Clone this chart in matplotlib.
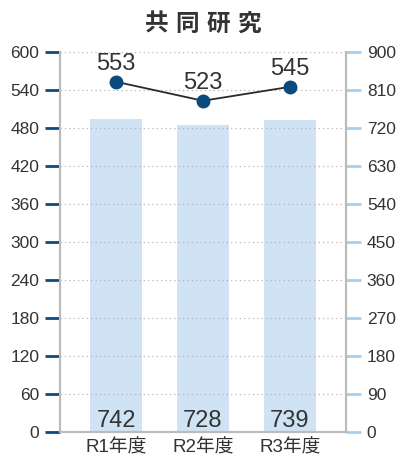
import matplotlib
matplotlib.use("Agg")
import matplotlib.pyplot as plt
import numpy as np

plt.rcParams['font.family'] = ['Liberation Sans', 'Noto Sans CJK JP', 'DejaVu Sans']

title = "共同研究"
categories = ["R1年度", "R2年度", "R3年度"]
bar_values = [742, 728, 739]      # right axis
line_values = [553, 523, 545]     # left axis
left_ticks = list(range(0, 601, 60))
right_ticks = list(range(0, 901, 90))

fig = plt.figure(figsize=(3.99, 4.61), dpi=100)
ax = fig.add_axes([60/399, 29/461, 286/399, 380/461])
ax2 = ax.twinx()

x = np.arange(len(categories))

# bars on right axis
ax2.bar(x, bar_values, width=0.6, color="#cfe3f4", zorder=1)
ax2.set_ylim(0, 900)
ax2.set_yticks(right_ticks)
for xi, v in zip(x, bar_values):
    ax2.text(xi, 12, str(v), ha="center", va="baseline", fontsize=17,
             color="#333333")

# put left axis on top for line
ax.set_zorder(ax2.get_zorder() + 1)
ax.patch.set_visible(False)

ax.set_ylim(0, 600)
ax.set_yticks(left_ticks)
ax.set_xlim(-0.644, 2.644)
ax.grid(axis="y", linestyle=(0, (1, 2.5)), color="#b5b5b5", linewidth=0.9)
ax.set_axisbelow(True)
ax.plot(x, line_values, color="#2a2a2a", linewidth=1.3, zorder=3)
ax.plot(x, line_values, "o", color="#0b4a7e", markersize=9, zorder=4)
for xi, v in zip(x, line_values):
    ax.text(xi, v + 19, str(v), ha="center", va="baseline", fontsize=17,
            color="#333333")

ax.set_xticks(x)
ax.set_xticklabels(categories, fontsize=13.5, color="#333333")
ax.tick_params(axis="x", length=0, pad=5)
ax.tick_params(axis="y", length=11, width=2, color="#0b4a7e", pad=4,
               labelsize=12.5, labelcolor="#333333")
ax2.tick_params(axis="y", length=11, width=2, color="#a5cfee", pad=4,
                labelsize=12.5, labelcolor="#333333")

for a in (ax, ax2):
    a.spines["top"].set_visible(False)
    for s in ("left", "right", "bottom"):
        a.spines[s].set_color("#bbbbbb")
        a.spines[s].set_linewidth(1.5)

# title with letter spacing
cx = 203 / 399
step = 31 / 399
for i, ch in enumerate(title):
    fig.text(cx + (i - 1.5) * step, 1 - 24/461, ch, ha="center", va="center",
             fontsize=17, fontweight="bold", color="#333333",
             family=['Noto Sans CJK JP'])

fig.savefig("out.png", dpi=100)
